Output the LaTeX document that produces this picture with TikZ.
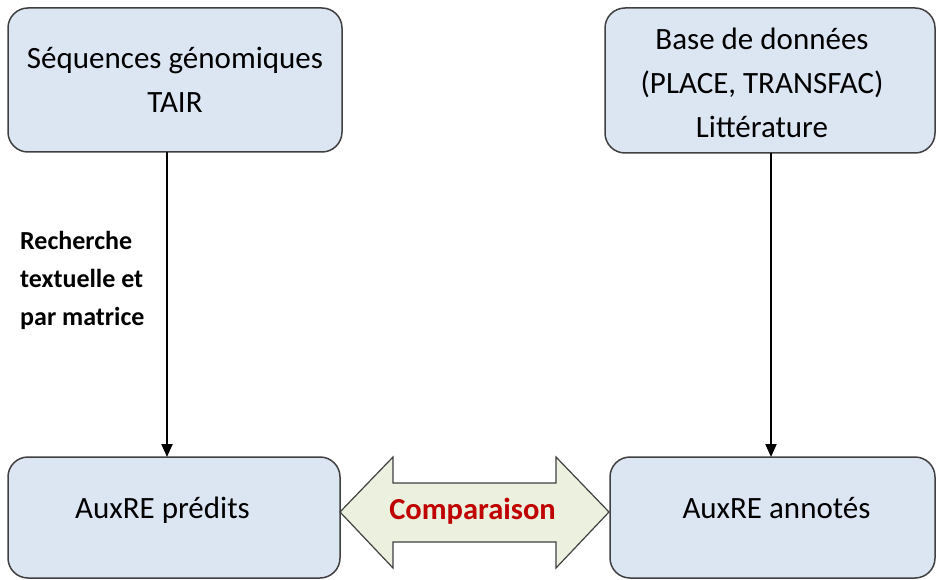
\documentclass[tikz,border=0pt]{standalone}
\usepackage{fontspec}
\setmainfont{Carlito}
\usetikzlibrary{arrows.meta}
\definecolor{boxfill}{HTML}{DCE6F2}
\definecolor{boxline}{HTML}{404040}
\definecolor{arrfill}{HTML}{EBF1DE}
\definecolor{cmpred}{HTML}{C00000}
\tikzset{
  boxbase/.style={draw=boxline, line width=1.5pt, fill=boxfill, rounded corners=20pt,
    inner sep=0pt, font=\fontsize{31}{44}\selectfont},
  box/.style={boxbase, align=center},
  boxone/.style={boxbase, text height=16pt, text depth=15pt},
  conn/.style={line width=2pt, -{Triangle[length=13pt,width=11pt]}},
  lbl/.style={align=left, font=\bfseries\fontsize{26}{38}\selectfont, inner sep=0pt},
}
\begin{document}
\begin{tikzpicture}[x=1pt,y=-1pt]
\useasboundingbox (0,0) rectangle (941,580);
\node[box, minimum width=334pt, minimum height=144pt] (seq) at (175,80) {Séquences génomiques\\TAIR};
\node[boxbase, minimum width=330pt, minimum height=145pt] (base) at (770,80.5)
  {\raisebox{0pt}[\dimexpr\height+8pt\relax][\depth]{\begin{tabular}{@{}c@{\hspace{16pt}}}Base de données\\(PLACE, TRANSFAC)\\Littérature\end{tabular}}};
\node[boxone, minimum width=332pt, minimum height=121pt] (pred) at (174,517.5) {AuxRE prédits\hspace*{23pt}};
\node[boxone, minimum width=325pt, minimum height=121pt] (anno) at (772.5,517.5) {\hspace*{8pt}AuxRE annotés};
\draw[conn] (167,152) -- (167,457);
\draw[conn] (771,153) -- (771,457);
\node[lbl, anchor=north west] (rech) at (20,231) {Recherche\\textuelle et\\par matrice};
\draw[draw=boxline, line width=1.2pt, fill=arrfill]
  (340,512) -- (393,457) -- (393,483) -- (556,483) -- (556,457) -- (609,512)
  -- (556,568) -- (556,542) -- (393,542) -- (393,568) -- cycle;
\node[font=\bfseries\fontsize{30.5}{32}\selectfont, text=cmpred] (cmp) at (472.5,511) {Comparaison};
\end{tikzpicture}
\end{document}
